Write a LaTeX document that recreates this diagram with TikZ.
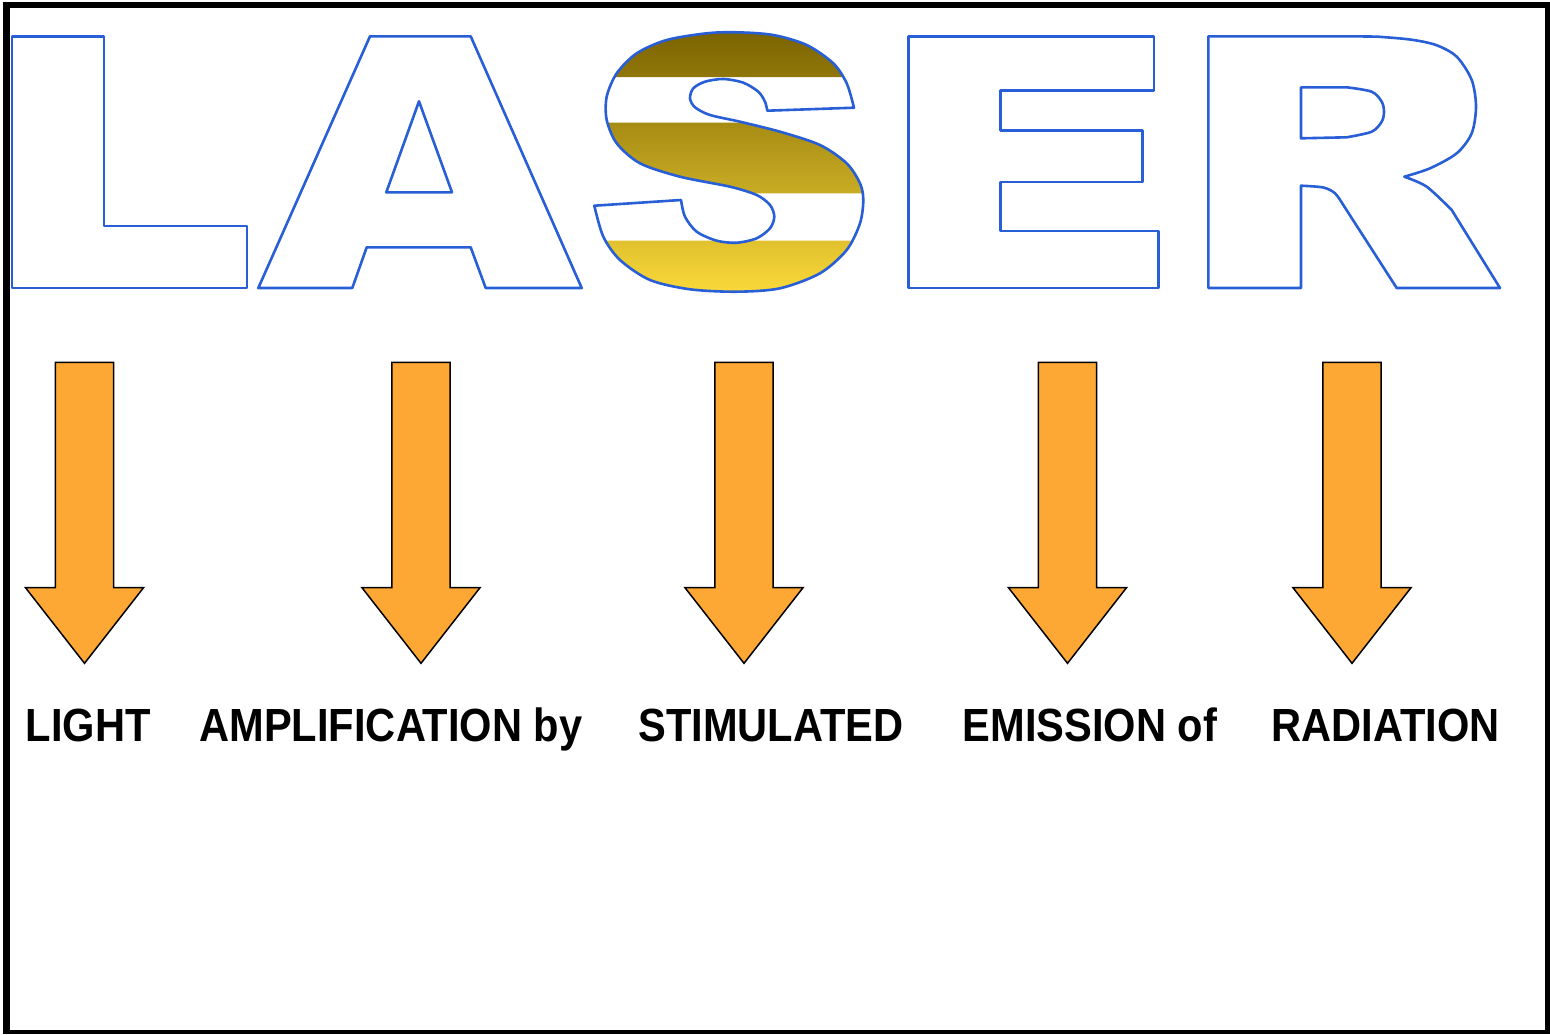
\documentclass[tikz,border=0pt]{standalone}
\usepackage{fontspec}
\newfontfamily\lblfont[FakeStretch=0.895]{Liberation Sans}
\usetikzlibrary{calc}
\definecolor{lblue}{RGB}{40,94,214}
\definecolor{arrorange}{RGB}{253,167,52}
\definecolor{gtop}{RGB}{122,98,0}
\definecolor{gbot}{RGB}{251,218,58}
\tikzset{
  letter/.style={draw=lblue, line width=2.6pt, line join=round},
  bigarrow/.style={draw=black, fill=arrorange, line width=1.5pt, line join=miter},
  lbl/.style={anchor=base, inner sep=0pt, font=\lblfont\bfseries\fontsize{46.5}{52}\selectfont},
}
\def\Spath{(854,107.7) -- plot[smooth] coordinates {(767.3,110.7) (765,101.7) (758.3,91.7) (743.3,82.7) (723.3,79) (705,81.7) (693.3,88.3) (690,98.3) (695,107.3) (710,115) (740,121.7) (780,131.7) (820,145) (846.7,163.3) (860,183.3) (863.3,200) (860,223.3) (846.7,250) (820,273.3) (780,288.3) (736.7,291.7) (690,289.3) (650,280) (620,260) (603.3,236.7) (594.3,205.7)} -- plot[smooth] coordinates {(681,200) (685,216.7) (696.7,231.7) (716.7,240.7) (736.7,242.7) (756.7,238.3) (770,228.3) (774.3,216.7) (770,205) (756.7,195) (730,186.7) (680,176.7) (640,163.3) (616.7,143.3) (606.7,120) (606.7,96.7) (616.7,73.3) (636.7,53.3) (666.7,40) (706.7,33.3) (736.7,32.3) (773.3,35) (806.7,45) (833.3,63.3) (846.7,83.3) (854,107.7)} -- cycle}
\begin{document}
\begin{tikzpicture}[x=1pt,y=-1pt]
\useasboundingbox (0,0) rectangle (1550,1034);
\fill[white] (0,0) rectangle (1550,1034);
% frame
\fill[black] (3,2) rectangle (10,1034);
\fill[black] (3,2) rectangle (1550,8);
\fill[black] (1545,2) rectangle (1550,1034);
\fill[black] (3,1029.5) rectangle (1550,1034);
% L
\draw[letter] (12,36.5) -- (104,36.5) -- (104,226) -- (247,226) -- (247,288) -- (12,288) -- cycle;
% A
\draw[letter] (258.3,288) -- (370,36.3) -- (470.7,36.3) -- (581.7,288) -- (485.7,288) -- (470.7,247.3) -- (366.7,247.3) -- (352.3,288) -- cycle;
\draw[letter] (419,101.3) -- (452,192.3) -- (386.3,192.3) -- cycle;
% S gradient stripes
\begin{scope}
  \clip \Spath;
  \clip (580,25) rectangle (880,77) (580,122.7) rectangle (880,193.3) (580,240.7) rectangle (880,300);
  \shade[top color=gtop, bottom color=gbot] (580,30) rectangle (880,295);
\end{scope}
\draw[letter] \Spath;
% E
\draw[letter] (908.7,36.3) -- (1154,36.3) -- (1154,90.3) -- (1000.3,90.3) -- (1000.3,130.3) -- (1142.7,130.3) -- (1142.7,182) -- (1000.3,182) -- (1000.3,231) -- (1158.3,231) -- (1158.3,288) -- (908.7,288) -- cycle;
% R
\draw[letter] (1208.3,36.3) -- (1350,36.3) -- plot[smooth] coordinates {(1376.7,36.6) (1410,39.5) (1436,45) (1456.7,56.7) (1471.7,80) (1476,106.7) (1471.7,133.3) (1456.7,153.3) (1430,168.3) (1404.3,176.7)} -- plot[smooth] coordinates {(1404.3,176.7) (1426.7,186.7) (1451.7,210)} -- (1500,288) -- (1396.7,288) -- plot[smooth] coordinates {(1343.3,205) (1335,193.3) (1323.3,187.5) (1301,185.7)} -- (1301,288) -- (1208.3,288) -- cycle;
\draw[letter] (1301,87.3) -- (1346.7,87.3) -- plot[smooth] coordinates {(1346.7,87.3) (1371.7,91.7) (1381.7,101.7) (1384,111.7) (1381.7,121.7) (1371.7,131.7) (1346.7,137.3)} -- (1301,138.3) -- cycle;
% arrows
\foreach \n/\cx in {1/84.5, 2/421, 3/744, 4/1067.5, 5/1352}{
  \coordinate (tip\n) at (\cx,663.3);
  \draw[bigarrow] ({\cx-29.2},362.3) -- ({\cx+29.2},362.3) -- ({\cx+29.2},587.7) -- ({\cx+59},587.7) -- (tip\n) -- ({\cx-59},587.7) -- ({\cx-29.2},587.7) -- cycle;
}
% labels
\node[lbl] (l1) at (88.3,741.7) {LIGHT};
\node[lbl] (l2) at (391,741.7) {AMPLIFICATION by};
\node[lbl] (l3) at (771,741.7) {STIMULATED};
\node[lbl] (l4) at (1090,741.7) {EMISSION of};
\node[lbl] (l5) at (1385.5,741.7) {RADIATION};
\end{tikzpicture}
\end{document}
